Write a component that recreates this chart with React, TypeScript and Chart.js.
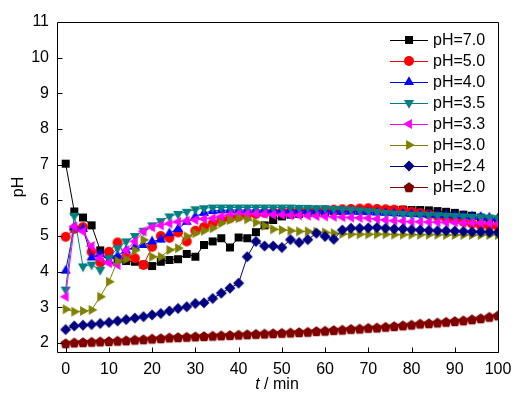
import React, { useEffect, useRef } from 'react';
import { Chart, registerables } from 'chart.js';

Chart.register(...registerables);

const times = [0, 2, 4, 6, 8, 10, 12, 14, 16, 18, 20, 22, 24, 26, 28, 30, 32, 34, 36, 38, 40, 42, 44, 46, 48, 50, 52, 54, 56, 58, 60, 62, 64, 66, 68, 70, 72, 74, 76, 78, 80, 82, 84, 86, 88, 90, 92, 94, 96, 98, 100];

const ph70 = [7.03, 5.69, 5.52, 5.3, 4.6, 4.5, 4.35, 4.3, 4.28, 4.2, 4.16, 4.28, 4.33, 4.35, 4.5, 4.42, 4.75, 4.85, 4.94, 4.68, 4.96, 4.94, 5.11, 5.3, 5.45, 5.55, 5.6, 5.62, 5.65, 5.67, 5.68, 5.7, 5.7, 5.72, 5.72, 5.73, 5.73, 5.73, 5.73, 5.74, 5.73, 5.73, 5.72, 5.7, 5.68, 5.65, 5.6, 5.57, 5.52, 5.48, 5.45];
const ph50 = [4.98, 5.2, 5.25, 4.56, 4.26, 4.56, 4.82, 4.42, 4.38, 4.19, 4.7, 5.0, 4.95, 5.1, 4.85, 5.15, 5.25, 5.35, 5.45, 5.5, 5.55, 5.6, 5.62, 5.65, 5.67, 5.68, 5.7, 5.7, 5.72, 5.72, 5.73, 5.74, 5.75, 5.76, 5.77, 5.78, 5.76, 5.75, 5.74, 5.72, 5.68, 5.65, 5.6, 5.55, 5.5, 5.45, 5.4, 5.35, 5.3, 5.28, 5.27];
const ph40 = [4.03, 5.25, 5.2, 4.4, 4.5, 4.3, 4.45, 4.6, 4.7, 4.75, 4.85, 4.9, 5.08, 5.2, 5.4, 5.55, 5.65, 5.7, 5.72, 5.73, 5.73, 5.73, 5.73, 5.73, 5.72, 5.72, 5.72, 5.72, 5.71, 5.71, 5.7, 5.7, 5.7, 5.69, 5.68, 5.67, 5.66, 5.65, 5.64, 5.63, 5.62, 5.61, 5.6, 5.6, 5.59, 5.58, 5.57, 5.55, 5.54, 5.52, 5.5];
const ph35 = [3.5, 5.57, 4.15, 4.2, 4.05, 4.38, 4.66, 4.85, 5.0, 5.15, 5.3, 5.42, 5.55, 5.62, 5.68, 5.75, 5.78, 5.8, 5.8, 5.8, 5.8, 5.8, 5.8, 5.8, 5.8, 5.8, 5.8, 5.79, 5.79, 5.78, 5.78, 5.76, 5.75, 5.74, 5.72, 5.7, 5.68, 5.65, 5.63, 5.62, 5.6, 5.6, 5.59, 5.58, 5.57, 5.56, 5.55, 5.54, 5.53, 5.52, 5.5];
const ph33 = [3.3, 5.27, 5.13, 4.72, 4.38, 4.24, 4.19, 4.6, 4.85, 5.13, 5.25, 5.3, 5.35, 5.4, 5.43, 5.45, 5.48, 5.5, 5.55, 5.6, 5.62, 5.63, 5.63, 5.62, 5.6, 5.6, 5.58, 5.58, 5.57, 5.56, 5.55, 5.54, 5.53, 5.52, 5.51, 5.5, 5.48, 5.45, 5.43, 5.42, 5.4, 5.4, 5.39, 5.39, 5.38, 5.38, 5.37, 5.37, 5.36, 5.36, 5.35];
const ph30 = [2.95, 2.88, 2.9, 2.93, 3.3, 3.72, 4.3, 4.35, 4.6, 4.89, 4.42, 4.42, 4.61, 4.66, 4.99, 5.08, 5.15, 5.22, 5.36, 5.45, 5.5, 5.47, 5.38, 5.29, 5.19, 5.17, 5.15, 5.13, 5.13, 5.12, 5.1, 5.08, 5.06, 5.05, 5.05, 5.05, 5.05, 5.05, 5.04, 5.04, 5.04, 5.04, 5.04, 5.04, 5.03, 5.03, 5.03, 5.03, 5.03, 5.03, 5.03];
const ph24 = [2.38, 2.48, 2.5, 2.52, 2.55, 2.58, 2.62, 2.66, 2.7, 2.74, 2.79, 2.83, 2.9, 2.97, 3.02, 3.11, 3.13, 3.25, 3.4, 3.54, 3.68, 4.42, 4.85, 4.72, 4.72, 4.68, 4.9, 4.82, 4.9, 5.08, 4.99, 4.91, 5.17, 5.22, 5.22, 5.23, 5.24, 5.22, 5.2, 5.2, 5.18, 5.17, 5.16, 5.15, 5.15, 5.14, 5.13, 5.12, 5.12, 5.11, 5.1];
const ph20 = [2.0, 2.02, 2.03, 2.04, 2.05, 2.06, 2.07, 2.08, 2.1, 2.11, 2.13, 2.14, 2.16, 2.17, 2.18, 2.19, 2.2, 2.21, 2.22, 2.23, 2.24, 2.25, 2.26, 2.27, 2.28, 2.29, 2.3, 2.31, 2.32, 2.34, 2.35, 2.37, 2.38, 2.4, 2.41, 2.43, 2.44, 2.46, 2.48, 2.5, 2.52, 2.55, 2.56, 2.58, 2.6, 2.62, 2.64, 2.67, 2.7, 2.74, 2.78];

const seriesLabels = ['pH=7.0', 'pH=5.0', 'pH=4.0', 'pH=3.5', 'pH=3.3', 'pH=3.0', 'pH=2.4', 'pH=2.0'];
const seriesValues = [ph70, ph50, ph40, ph35, ph33, ph30, ph24, ph20];
const seriesColors = ['#000000', '#ff0000', '#0000ff', '#008080', '#ff00ff', '#808000', '#000080', '#800000'];
const seriesMarkers = ['rect', 'circle', 'triUp', 'triDown', 'triLeft', 'triRight', 'diamond', 'pentagon'];

const xTicks = [0, 10, 20, 30, 40, 50, 60, 70, 80, 90, 100];
const yTicks = [2, 3, 4, 5, 6, 7, 8, 9, 10, 11];

const FONT = 'Arial, "Liberation Sans", sans-serif';

function markerPath(ctx: CanvasRenderingContext2D, kind: string, x: number, y: number) {
  ctx.beginPath();
  if (kind === 'rect') {
    const s = 4;
    ctx.rect(x - s, y - s, 2 * s, 2 * s);
  } else if (kind === 'circle') {
    ctx.arc(x, y, 5, 0, Math.PI * 2);
  } else if (kind === 'diamond') {
    const r = 5.5;
    ctx.moveTo(x, y - r);
    ctx.lineTo(x + r, y);
    ctx.lineTo(x, y + r);
    ctx.lineTo(x - r, y);
    ctx.closePath();
  } else if (kind === 'pentagon') {
    const r = 5.5;
    for (let i = 0; i < 5; i++) {
      const a = -Math.PI / 2 + (i * 2 * Math.PI) / 5;
      const px = x + r * Math.cos(a);
      const py = y + 0.8 + r * Math.sin(a);
      if (i === 0) ctx.moveTo(px, py);
      else ctx.lineTo(px, py);
    }
    ctx.closePath();
  } else {
    const r = 5.8;
    const rot = kind === 'triUp' ? 0 : kind === 'triDown' ? Math.PI : kind === 'triLeft' ? -Math.PI / 2 : Math.PI / 2;
    for (let i = 0; i < 3; i++) {
      const a = rot + (i * 2 * Math.PI) / 3;
      const px = x + Math.sin(a) * r;
      const py = y - Math.cos(a) * r;
      if (i === 0) ctx.moveTo(px, py);
      else ctx.lineTo(px, py);
    }
    ctx.closePath();
  }
}

function makeMarkerCanvas(kind: string, color: string) {
  const c = document.createElement('canvas');
  c.width = 14;
  c.height = 14;
  const ctx = c.getContext('2d') as CanvasRenderingContext2D;
  ctx.fillStyle = color;
  markerPath(ctx, kind, 7, 7);
  ctx.fill();
  return c;
}

const framePlugin = {
  id: 'frame',
  afterDraw(chart: any) {
    const { ctx, chartArea: a, scales } = chart;
    ctx.save();
    ctx.strokeStyle = '#000';
    ctx.lineWidth = 1;
    const l = Math.round(a.left) + 0.5;
    const t = Math.round(a.top) + 0.5;
    const r = Math.round(a.right) + 0.5;
    const b = Math.round(a.bottom) + 0.5;
    ctx.beginPath();
    ctx.rect(l, t, r - l, b - t);
    xTicks.forEach((v) => {
      const x = Math.round(scales.x.getPixelForValue(v)) + 0.5;
      ctx.moveTo(x, b);
      ctx.lineTo(x, b - 5);
    });
    yTicks.forEach((v) => {
      const y = Math.round(scales.y.getPixelForValue(v)) + 0.5;
      ctx.moveTo(l, y);
      ctx.lineTo(l + 5, y);
    });
    ctx.stroke();

    // legend
    ctx.font = '16px ' + FONT;
    ctx.textBaseline = 'middle';
    ctx.textAlign = 'left';
    seriesLabels.forEach((lab, i) => {
      const y = 40 + i * 21;
      ctx.strokeStyle = seriesColors[i];
      ctx.beginPath();
      ctx.moveTo(390, y + 0.5);
      ctx.lineTo(428, y + 0.5);
      ctx.stroke();
      ctx.fillStyle = seriesColors[i];
      markerPath(ctx, seriesMarkers[i], 409, y);
      ctx.fill();
      ctx.fillStyle = '#000';
      ctx.fillText(lab, 433, y + 1);
    });

    // x title
    ctx.font = 'italic 16px ' + FONT;
    const tW = ctx.measureText('t').width;
    ctx.font = '16px ' + FONT;
    const rest = ' / min';
    const rW = ctx.measureText(rest).width;
    const cx = 277;
    const sx = cx - (tW + rW) / 2;
    ctx.font = 'italic 16px ' + FONT;
    ctx.fillText('t', sx, 385);
    ctx.font = '16px ' + FONT;
    ctx.fillText(rest, sx + tW, 385);

    // y title
    ctx.save();
    ctx.translate(19, 187);
    ctx.rotate(-Math.PI / 2);
    ctx.textAlign = 'center';
    ctx.fillText('pH', 0, 0);
    ctx.restore();

    ctx.restore();
  },
};

export default function App() {
  const ref = useRef<HTMLCanvasElement>(null);
  useEffect(() => {
    document.body.style.margin = '0';
    const canvas = ref.current;
    if (!canvas) return;
    const datasets = seriesLabels.map((label, i) => ({
      label,
      data: times.map((t, j) => ({ x: t, y: seriesValues[i][j] })),
      borderColor: seriesColors[i],
      backgroundColor: seriesColors[i],
      borderWidth: 1,
      pointStyle: makeMarkerCanvas(seriesMarkers[i], seriesColors[i]) as any,
      pointRadius: 6,
      pointHoverRadius: 6,
      order: -i,
      tension: 0,
    }));
    const chart = new Chart(canvas, {
      type: 'line',
      data: { datasets },
      options: {
        animation: false,
        responsive: false,
        devicePixelRatio: 1,
        layout: { padding: { top: 22, right: 33, left: 0, bottom: 0 } },
        plugins: { legend: { display: false }, tooltip: { enabled: false } },
        events: [],
        scales: {
          x: {
            type: 'linear',
            min: -2,
            max: 100,
            grid: { display: false, drawTicks: false },
            border: { display: false },
            afterBuildTicks: (s: any) => {
              s.ticks = xTicks.map((v) => ({ value: v }));
            },
            afterFit: (s: any) => {
              s.height = 45;
            },
            ticks: {
              color: '#000',
              font: { size: 16, family: FONT },
              padding: 8,
              maxRotation: 0,
              autoSkip: false,
            },
          },
          y: {
            type: 'linear',
            min: 1.75,
            max: 11,
            grid: { display: false, drawTicks: false },
            border: { display: false },
            afterBuildTicks: (s: any) => {
              s.ticks = yTicks.map((v) => ({ value: v }));
            },
            afterFit: (s: any) => {
              s.width = 57;
            },
            ticks: {
              color: '#000',
              font: { size: 16, family: FONT },
              padding: 8,
              autoSkip: false,
            },
          },
        },
      },
      plugins: [framePlugin],
    });
    return () => chart.destroy();
  }, []);
  return (
    <div style={{ width: 531, height: 397 }}>
      <canvas ref={ref} width={531} height={397} style={{ display: 'block' }} />
    </div>
  );
}
